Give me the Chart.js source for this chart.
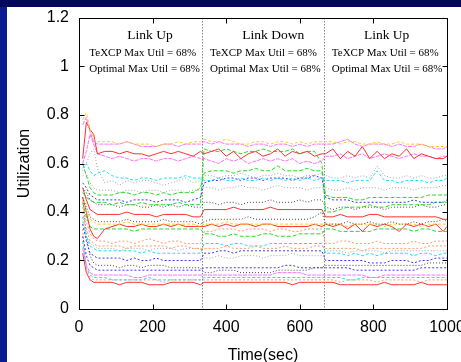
<!DOCTYPE html>
<html><head><meta charset="utf-8">
<script src="https://cdn.jsdelivr.net/npm/chart.js@4/dist/chart.umd.min.js"></script>
<style>
html,body{margin:0;padding:0;}
body{width:461px;height:362px;overflow:hidden;background:#0b1c92;position:relative;}
#top{position:absolute;left:0;top:0;width:461px;height:7px;background:#03085a;}
#panel{position:absolute;left:7px;top:7px;width:454px;height:355px;background:#fff;}
canvas{display:block;}
</style></head>
<body><div id="top"></div><div id="panel"><canvas id="c" width="454" height="355"></canvas></div>
<script>
// time stamps (sec)
const times = [10,20,30,40,50,
 70,90,110,130,150,170,190,210,230,250,270,290,310,330,
 340,360,380,400,420,440,460,480,500,520,540,560,580,600,620,640,660,
 670,690,710,730,750,770,790,810,830,850,870,890,910,930,950,970,990,1000];
const xTicks = [0,200,400,600,800,1000];
const yTicks = [0,0.2,0.4,0.6,0.8,1,1.2];
const events = [333.3, 666.7];
const phaseTitles = ['Link Up','Link Down','Link Up'];
const texcpLines = ['TeXCP Max Util = 68%','TeXCP Max Util = 68%','TeXCP Max Util = 68%'];
const optimalLines = ['Optimal Max Util = 68%','Optimal Max Util = 68%','Optimal Max Util = 68%'];

// link utilizations
const yellowTop = [0.78,0.81,0.74,0.70,0.69,
 0.69,0.69,0.68,0.69,0.68,0.68,0.68,0.67,0.68,0.68,0.69,0.68,0.69,0.69,
 0.70,0.69,0.69,0.70,0.69,0.68,0.68,0.69,0.69,0.68,0.69,0.69,0.68,0.69,0.68,0.69,0.69,
 0.69,0.69,0.68,0.69,0.69,0.68,0.68,0.69,0.68,0.68,0.69,0.68,0.68,0.68,0.67,0.67,0.67,0.67];
const pinkTop = [0.76,0.79,0.73,0.69,0.68,
 0.68,0.68,0.68,0.69,0.68,0.67,0.67,0.67,0.68,0.68,0.67,0.68,0.68,0.68,
 0.69,0.68,0.69,0.68,0.68,0.68,0.67,0.68,0.68,0.67,0.68,0.68,0.67,0.68,0.67,0.68,0.68,
 0.68,0.68,0.69,0.70,0.68,0.67,0.68,0.68,0.68,0.67,0.68,0.67,0.67,0.68,0.67,0.66,0.66,0.67];
const redTop = [0.62,0.77,0.74,0.72,0.64,
 0.65,0.65,0.64,0.65,0.64,0.64,0.63,0.64,0.65,0.64,0.65,0.64,0.63,0.65,
 0.64,0.65,0.66,0.63,0.65,0.62,0.64,0.65,0.63,0.64,0.66,0.63,0.65,0.64,0.65,0.63,0.64,
 0.64,0.66,0.62,0.65,0.63,0.67,0.62,0.65,0.62,0.64,0.63,0.66,0.62,0.64,0.63,0.62,0.62,0.63];
const pinkLow = [0.60,0.65,0.72,0.68,0.64,
 0.63,0.62,0.63,0.62,0.61,0.62,0.62,0.61,0.62,0.62,0.61,0.62,0.63,0.62,
 0.62,0.61,0.60,0.62,0.61,0.62,0.60,0.61,0.62,0.61,0.62,0.61,0.62,0.60,0.61,0.60,0.61,
 0.63,0.63,0.64,0.62,0.63,0.64,0.62,0.63,0.64,0.63,0.62,0.63,0.64,0.63,0.63,0.62,0.63,0.63];
const cyanA = [0.58,0.60,0.57,0.55,0.56,
 0.57,0.55,0.54,0.54,0.53,0.54,0.54,0.53,0.54,0.54,0.54,0.55,0.54,0.54,
 0.53,0.53,0.54,0.53,0.53,0.54,0.53,0.53,0.54,0.53,0.54,0.53,0.54,0.53,0.54,0.53,0.54,
 0.53,0.53,0.53,0.52,0.53,0.53,0.53,0.57,0.53,0.53,0.52,0.53,0.53,0.53,0.52,0.53,0.53,0.54];
const grayA = [0.57,0.60,0.64,0.66,0.58,
 0.52,0.53,0.51,0.53,0.52,0.53,0.53,0.52,0.51,0.52,0.53,0.54,0.52,0.53,
 0.55,0.55,0.54,0.55,0.55,0.56,0.55,0.54,0.55,0.55,0.56,0.55,0.55,0.54,0.55,0.55,0.56,
 0.55,0.54,0.54,0.55,0.54,0.55,0.54,0.59,0.55,0.54,0.54,0.55,0.54,0.55,0.54,0.54,0.55,0.55];
const grayB = [0.55,0.56,0.52,0.50,0.49,
 0.49,0.49,0.48,0.49,0.49,0.48,0.49,0.49,0.48,0.49,0.49,0.48,0.49,0.49,
 0.50,0.50,0.49,0.50,0.50,0.51,0.50,0.50,0.49,0.50,0.51,0.50,0.50,0.50,0.49,0.50,0.50,
 0.50,0.49,0.49,0.50,0.49,0.50,0.50,0.50,0.49,0.50,0.50,0.50,0.49,0.50,0.50,0.50,0.51,0.51];
const greenA = [0.60,0.55,0.50,0.48,0.47,
 0.47,0.47,0.48,0.48,0.47,0.48,0.48,0.47,0.48,0.47,0.48,0.48,0.48,0.50,
 0.56,0.57,0.57,0.57,0.56,0.57,0.57,0.58,0.57,0.57,0.59,0.57,0.57,0.57,0.58,0.57,0.57,
 0.47,0.46,0.46,0.46,0.45,0.45,0.46,0.46,0.46,0.46,0.46,0.46,0.46,0.46,0.47,0.47,0.47,0.47];
const blueA = [0.52,0.50,0.47,0.46,0.45,
 0.45,0.45,0.45,0.44,0.45,0.45,0.45,0.44,0.45,0.45,0.45,0.44,0.45,0.46,
 0.52,0.53,0.53,0.54,0.54,0.53,0.54,0.54,0.53,0.54,0.54,0.54,0.53,0.54,0.54,0.55,0.54,
 0.46,0.45,0.45,0.45,0.44,0.44,0.44,0.44,0.44,0.44,0.44,0.44,0.45,0.44,0.44,0.44,0.44,0.45];
const greenB = [0.48,0.46,0.45,0.44,0.44,
 0.44,0.43,0.44,0.43,0.43,0.44,0.43,0.43,0.43,0.43,0.44,0.43,0.43,0.43,
 0.66,0.65,0.65,0.66,0.65,0.64,0.65,0.65,0.66,0.65,0.65,0.65,0.66,0.64,0.65,0.65,0.60,
 0.40,0.40,0.41,0.42,0.42,0.42,0.43,0.42,0.42,0.43,0.43,0.43,0.43,0.43,0.43,0.44,0.44,0.44];
const blackA = [0.50,0.48,0.45,0.44,0.43,
 0.43,0.43,0.42,0.43,0.43,0.42,0.42,0.43,0.42,0.43,0.42,0.43,0.42,0.42,
 0.44,0.44,0.43,0.44,0.44,0.43,0.44,0.44,0.44,0.45,0.44,0.44,0.44,0.45,0.44,0.45,0.45,
 0.42,0.41,0.42,0.42,0.41,0.42,0.42,0.42,0.41,0.42,0.42,0.42,0.42,0.43,0.42,0.42,0.43,0.43];
const redMid = [0.50,0.45,0.41,0.40,0.39,
 0.39,0.39,0.39,0.40,0.39,0.39,0.39,0.38,0.39,0.39,0.39,0.39,0.38,0.38,
 0.41,0.41,0.41,0.41,0.42,0.41,0.41,0.41,0.41,0.42,0.41,0.41,0.41,0.41,0.41,0.41,0.41,
 0.38,0.38,0.39,0.38,0.38,0.38,0.39,0.39,0.38,0.38,0.38,0.38,0.38,0.38,0.38,0.38,0.37,0.37];
const grayC = [0.46,0.42,0.38,0.37,0.36,
 0.36,0.36,0.36,0.37,0.36,0.36,0.36,0.36,0.37,0.36,0.36,0.36,0.36,0.35,
 0.36,0.37,0.37,0.37,0.37,0.37,0.38,0.37,0.37,0.37,0.37,0.37,0.37,0.37,0.37,0.38,0.40,
 0.35,0.35,0.35,0.36,0.35,0.35,0.36,0.35,0.35,0.36,0.35,0.35,0.36,0.35,0.36,0.36,0.37,0.36];
const yellowMid = [0.45,0.40,0.37,0.36,0.35,
 0.35,0.35,0.35,0.36,0.35,0.35,0.35,0.35,0.35,0.35,0.35,0.35,0.35,0.34,
 0.35,0.35,0.35,0.36,0.35,0.35,0.35,0.35,0.35,0.35,0.35,0.35,0.35,0.35,0.35,0.35,0.35,
 0.35,0.35,0.35,0.34,0.35,0.35,0.35,0.35,0.34,0.35,0.35,0.35,0.35,0.34,0.35,0.35,0.35,0.35];
const redLow = [0.46,0.40,0.33,0.30,0.29,
 0.33,0.34,0.35,0.34,0.34,0.35,0.34,0.34,0.35,0.34,0.35,0.34,0.34,0.34,
 0.34,0.35,0.34,0.35,0.34,0.35,0.35,0.34,0.35,0.35,0.34,0.34,0.34,0.34,0.34,0.35,0.34,
 0.35,0.34,0.35,0.33,0.35,0.32,0.35,0.34,0.35,0.34,0.32,0.35,0.34,0.35,0.34,0.35,0.32,0.34];
const greenC = [0.44,0.38,0.34,0.33,0.33,
 0.33,0.33,0.33,0.33,0.32,0.33,0.33,0.33,0.33,0.33,0.33,0.33,0.33,0.33,
 0.31,0.31,0.30,0.30,0.31,0.30,0.30,0.30,0.31,0.31,0.30,0.30,0.30,0.31,0.31,0.31,0.31,
 0.33,0.33,0.32,0.32,0.32,0.32,0.32,0.33,0.33,0.33,0.33,0.33,0.32,0.33,0.33,0.32,0.32,0.32];
const salmonA = [0.42,0.36,0.31,0.29,0.28,
 0.28,0.27,0.28,0.28,0.27,0.28,0.29,0.28,0.27,0.28,0.28,0.27,0.27,0.27,
 0.32,0.32,0.33,0.33,0.33,0.32,0.33,0.33,0.33,0.32,0.33,0.33,0.32,0.32,0.33,0.33,0.33,
 0.27,0.27,0.28,0.28,0.27,0.27,0.27,0.28,0.27,0.27,0.27,0.27,0.28,0.27,0.27,0.28,0.28,0.28];
const salmonB = [0.40,0.33,0.28,0.27,0.26,
 0.26,0.26,0.26,0.25,0.26,0.26,0.26,0.26,0.26,0.25,0.26,0.26,0.25,0.25,
 0.25,0.25,0.25,0.26,0.25,0.25,0.25,0.26,0.25,0.25,0.25,0.26,0.25,0.25,0.25,0.26,0.26,
 0.25,0.25,0.25,0.25,0.25,0.24,0.25,0.25,0.25,0.25,0.25,0.25,0.25,0.25,0.26,0.26,0.26,0.26];
const cyanB = [0.38,0.30,0.26,0.25,0.24,
 0.24,0.24,0.24,0.24,0.24,0.23,0.24,0.23,0.23,0.23,0.23,0.23,0.23,0.23,
 0.27,0.27,0.27,0.26,0.27,0.27,0.26,0.26,0.26,0.27,0.27,0.27,0.27,0.27,0.27,0.27,0.27,
 0.23,0.23,0.23,0.22,0.23,0.22,0.23,0.22,0.23,0.23,0.23,0.23,0.22,0.23,0.23,0.22,0.23,0.23];
const grayD = [0.36,0.30,0.27,0.26,0.25,
 0.25,0.25,0.24,0.25,0.25,0.25,0.24,0.25,0.25,0.25,0.24,0.25,0.25,0.25,
 0.21,0.21,0.22,0.21,0.21,0.22,0.22,0.22,0.21,0.22,0.22,0.22,0.23,0.22,0.22,0.22,0.22,
 0.24,0.24,0.24,0.23,0.24,0.24,0.24,0.24,0.23,0.24,0.24,0.24,0.24,0.24,0.24,0.24,0.24,0.24];
const blueB = [0.35,0.28,0.23,0.22,0.21,
 0.21,0.21,0.21,0.20,0.21,0.20,0.20,0.21,0.20,0.20,0.20,0.20,0.20,0.20,
 0.23,0.23,0.24,0.24,0.23,0.24,0.24,0.24,0.24,0.24,0.24,0.24,0.24,0.24,0.24,0.24,0.24,
 0.20,0.20,0.20,0.20,0.20,0.20,0.19,0.19,0.19,0.20,0.20,0.20,0.19,0.20,0.20,0.21,0.21,0.21];
const blackB = [0.46,0.30,0.22,0.19,0.18,
 0.18,0.18,0.17,0.18,0.18,0.17,0.18,0.18,0.18,0.17,0.17,0.17,0.17,0.17,
 0.15,0.15,0.16,0.16,0.16,0.15,0.15,0.15,0.15,0.15,0.16,0.16,0.16,0.16,0.16,0.17,0.17,
 0.18,0.18,0.18,0.18,0.18,0.18,0.18,0.18,0.18,0.18,0.18,0.18,0.18,0.18,0.19,0.19,0.19,0.19];
const blueC = [0.30,0.22,0.18,0.17,0.16,
 0.16,0.16,0.16,0.16,0.16,0.16,0.16,0.16,0.16,0.16,0.16,0.16,0.16,0.16,
 0.17,0.17,0.17,0.17,0.17,0.17,0.17,0.17,0.17,0.17,0.17,0.18,0.18,0.17,0.17,0.17,0.17,
 0.17,0.17,0.17,0.17,0.16,0.16,0.16,0.16,0.16,0.16,0.16,0.16,0.16,0.17,0.17,0.17,0.17,0.17];
const pinkBottom = [0.25,0.18,0.15,0.14,0.14,
 0.14,0.14,0.14,0.14,0.13,0.13,0.14,0.14,0.14,0.14,0.14,0.14,0.14,0.14,
 0.14,0.14,0.14,0.14,0.14,0.14,0.14,0.14,0.14,0.14,0.15,0.15,0.15,0.15,0.14,0.14,0.14,
 0.14,0.14,0.14,0.14,0.14,0.14,0.13,0.13,0.14,0.14,0.14,0.14,0.14,0.14,0.14,0.14,0.14,0.14];
const cyanBottom = [0.28,0.17,0.14,0.13,0.13,
 0.13,0.12,0.12,0.12,0.12,0.12,0.13,0.12,0.12,0.12,0.12,0.12,0.12,0.12,
 0.13,0.13,0.13,0.13,0.13,0.13,0.13,0.13,0.13,0.13,0.13,0.13,0.13,0.13,0.13,0.13,0.13,
 0.13,0.13,0.13,0.12,0.12,0.13,0.13,0.13,0.13,0.13,0.13,0.13,0.13,0.13,0.13,0.13,0.13,0.13];
const salmonBottom = [0.33,0.16,0.13,0.12,0.12,
 0.12,0.12,0.12,0.12,0.12,0.12,0.12,0.12,0.11,0.12,0.12,0.12,0.12,0.12,
 0.12,0.12,0.12,0.12,0.12,0.12,0.12,0.12,0.12,0.12,0.12,0.12,0.12,0.12,0.12,0.12,0.12,
 0.12,0.12,0.11,0.12,0.12,0.12,0.12,0.11,0.12,0.12,0.12,0.12,0.12,0.11,0.12,0.12,0.12,0.12];
const redBottom = [0.23,0.15,0.12,0.11,0.11,
 0.11,0.11,0.10,0.11,0.11,0.11,0.10,0.10,0.10,0.11,0.11,0.11,0.11,0.10,
 0.11,0.11,0.11,0.11,0.11,0.11,0.11,0.11,0.11,0.11,0.11,0.11,0.10,0.11,0.11,0.11,0.11,
 0.11,0.11,0.10,0.10,0.10,0.10,0.10,0.10,0.11,0.10,0.10,0.10,0.10,0.11,0.10,0.10,0.10,0.10];

const STY = {
  red:{c:'#ff3030',d:[]}, green:{c:'#22dd22',d:[4,2]}, blue:{c:'#3838ff',d:[2,2]},
  pink:{c:'#ff70ff',d:[4,1]}, cyan:{c:'#20dcff',d:[3,2]}, salmon:{c:'#ff9a66',d:[2,2]},
  gray:{c:'#a0a0a0',d:[1,2]}, black:{c:'#404040',d:[1,2]}, yellow:{c:'#ffcc22',d:[3,2]}
};
const series = [
 [yellowTop,'yellow'],[pinkTop,'pink'],[redTop,'red'],[pinkLow,'pink'],[cyanA,'cyan'],
 [grayA,'gray'],[grayB,'gray'],[greenA,'green'],[blueA,'blue'],[greenB,'green'],
 [blackA,'black'],[redMid,'red'],[grayC,'black'],[yellowMid,'yellow'],[redLow,'red'],
 [greenC,'green'],[salmonA,'salmon'],[salmonB,'salmon'],[cyanB,'cyan'],[grayD,'gray'],
 [blueB,'blue'],[blackB,'black'],[blueC,'blue'],[pinkBottom,'pink'],[cyanBottom,'cyan'],
 [salmonBottom,'salmon'],[redBottom,'red']
];
const datasets = series.map(([vals,k],i)=>({
  label:'s'+i,
  data: vals.map((v,j)=>({x:times[j],y:v})),
  borderColor: STY[k].c, borderDash: STY[k].d, borderWidth:1,
  pointRadius:0, tension:0, fill:false
}));

const frame = {
  id:'frame',
  beforeDatasetsDraw(chart){
    const {ctx, chartArea:a, scales:{x}} = chart;
    ctx.save();
    ctx.strokeStyle='#8a8a8a'; ctx.lineWidth=1; ctx.setLineDash([1.5,1.5]);
    events.forEach(t=>{
      const px = Math.round(x.getPixelForValue(t))+0.5;
      ctx.beginPath(); ctx.moveTo(px,a.top); ctx.lineTo(px,a.bottom); ctx.stroke();
    });
    ctx.restore();
  },
  afterDatasetsDraw(chart){
    const {ctx, chartArea:a, scales:{x,y}} = chart;
    ctx.save();
    ctx.strokeStyle='#000'; ctx.lineWidth=1; ctx.setLineDash([]);
    const L=Math.round(a.left)+0.5, R=Math.round(a.right)+0.5, T=Math.round(a.top)+0.5, B=Math.round(a.bottom)+0.5;
    ctx.strokeRect(L,T,R-L,B-T);
    ctx.beginPath();
    yTicks.forEach(v=>{ const py=Math.round(y.getPixelForValue(v))+0.5;
      ctx.moveTo(L,py); ctx.lineTo(L+5,py); ctx.moveTo(R,py); ctx.lineTo(R-5,py); });
    xTicks.forEach(v=>{ const px=Math.round(x.getPixelForValue(v))+0.5;
      ctx.moveTo(px,B); ctx.lineTo(px,B-5); ctx.moveTo(px,T); ctx.lineTo(px,T+5); });
    ctx.stroke();
    // annotations
    const titleX=[193,528,836], lineX=[28,356,687];
    ctx.fillStyle='#000'; ctx.textBaseline='middle';
    ctx.font='13.5px "Liberation Serif","Times New Roman",serif'; ctx.textAlign='center';
    phaseTitles.forEach((s,i)=>ctx.fillText(s,x.getPixelForValue(titleX[i]),y.getPixelForValue(1.13)));
    ctx.font='11px "Liberation Serif","Times New Roman",serif'; ctx.textAlign='left';
    texcpLines.forEach((s,i)=>ctx.fillText(s,x.getPixelForValue(lineX[i]),y.getPixelForValue(1.057)));
    optimalLines.forEach((s,i)=>ctx.fillText(s,x.getPixelForValue(lineX[i]),y.getPixelForValue(0.988)));
    ctx.restore();
  }
};

const tickFont = {family:'"Liberation Sans", Arial, sans-serif', size:16};
new Chart(document.getElementById('c'), {
  type:'line',
  data:{datasets},
  options:{
    responsive:false, animation:false, devicePixelRatio:1,
    layout:{padding:{top:11,right:14,left:0,bottom:0}},
    plugins:{legend:{display:false}, tooltip:{enabled:false}},
    scales:{
      x:{type:'linear', min:0, max:1000,
        grid:{display:false, drawTicks:false}, border:{display:false},
        ticks:{stepSize:200, maxRotation:0, autoSkip:false, color:'#000', font:tickFont, padding:9,
          callback:v=>String(v)},
        title:{display:true, text:'Time(sec)', color:'#000', font:{...tickFont, lineHeight:0.85}, padding:{top:0,bottom:0}},
        afterFit(s){ s.height=53; s.paddingLeft=0; s.paddingRight=0; }
      },
      y:{type:'linear', min:0, max:1.2,
        grid:{display:false, drawTicks:false}, border:{display:false},
        ticks:{stepSize:0.2, color:'#000', font:tickFont, padding:10,
          callback:v=>String(Math.round(v*10)/10)},
        title:{display:true, text:'Utilization', color:'#000', font:{...tickFont, lineHeight:1}, padding:{top:10,bottom:0}},
        afterFit(s){ s.width=72; s.paddingTop=0; s.paddingBottom=0; }
      }
    }
  },
  plugins:[frame]
});
</script></body></html>
